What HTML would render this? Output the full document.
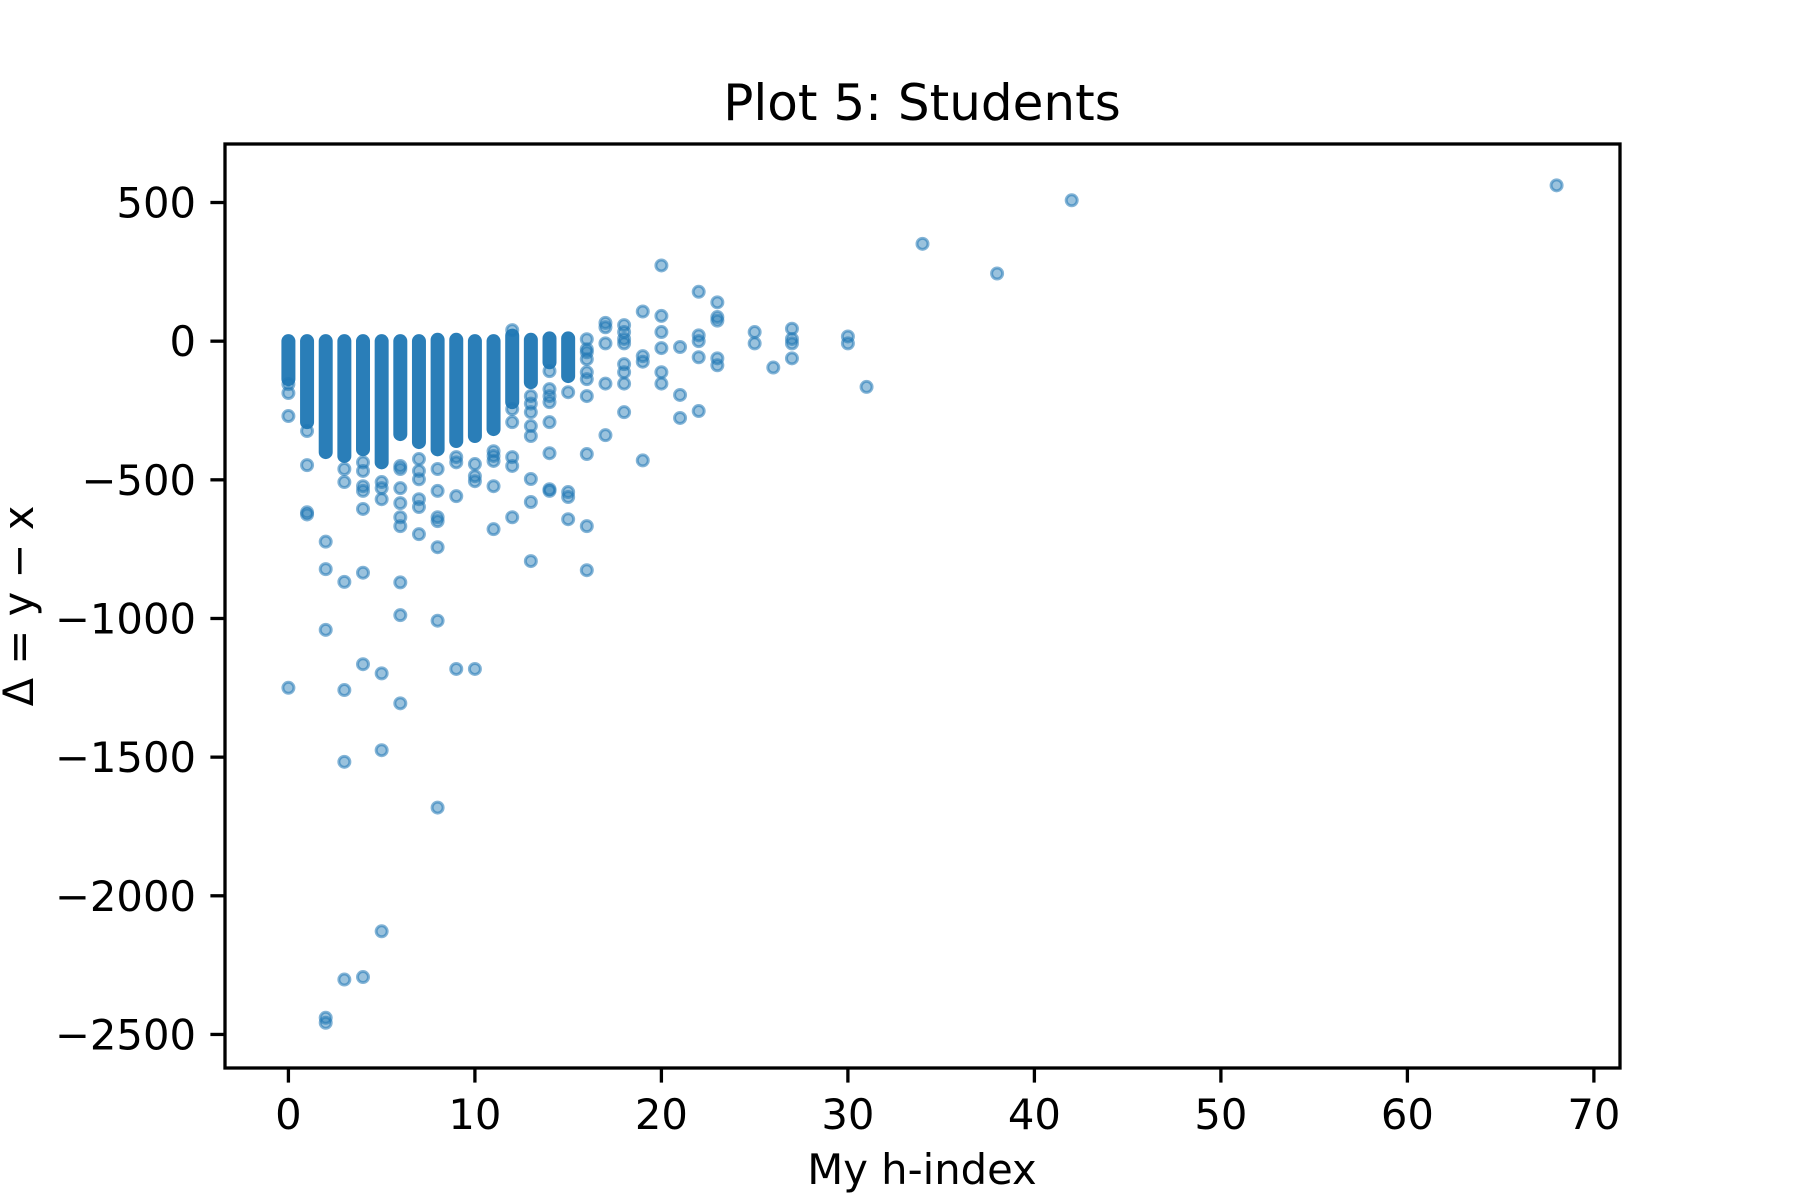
<!DOCTYPE html>
<html><head><meta charset="utf-8"><style>
html,body{margin:0;padding:0;background:#fff}
svg{display:block}
text{font-family:"DejaVu Sans","Liberation Sans",sans-serif;fill:#000}
</style></head><body>
<svg id="chart" width="1800" height="1200" viewBox="0 0 1800 1200" xmlns="http://www.w3.org/2000/svg">
<rect width="1800" height="1200" fill="#fff"/>
<text x="922" y="120" font-size="50" text-anchor="middle">Plot 5: Students</text>
<g id="plot"></g>
<g id="axes"></g>
<text x="922" y="1184" font-size="41.7" text-anchor="middle">My h-index</text>
<text transform="translate(33,606) rotate(-90)" font-size="41.7" text-anchor="middle">Δ = y − x</text>
</svg>
<script>
// Dense column bands (x value, top and bottom of the dense cluster)
const bandX = [0,1,2,3,4,5,6,7,8,9,10,11,12,13,14,15];
const bandTop = [0,0,0,0,0,0,0,0,5,5,0,0,20,5,10,10];
const bandBottom = [-137,-292,-400,-414,-390,-437,-335,-364,-390,-360,-342,-317,-220,-148,-76,-126];
// Individual scatter points (one line per h-index group)
const pointX = [
  0,0,0,0,
  1,1,1,1,
  2,2,2,2,2,
  3,3,3,3,3,3,
  4,4,4,4,4,4,4,4,
  5,5,5,5,5,5,
  6,6,6,6,6,6,6,6,6,
  7,7,7,7,7,7,
  8,8,8,8,8,8,8,
  9,9,9,9,
  10,10,10,10,
  11,11,11,11,11,
  12,12,12,12,12,12,
  13,13,13,13,13,13,13,13,
  14,14,14,14,14,14,14,14,
  15,15,15,15,
  16,16,16,16,16,16,16,16,16,16,
  17,17,17,17,17,
  18,18,18,18,18,18,18,18,
  19,19,19,19,
  20,20,20,20,20,20,
  21,21,21,
  22,22,22,22,22,
  23,23,23,23,23,
  25,25,
  26,
  27,27,27,27,
  30,30,
  31,
  34,
  38,
  42,
  68];
const pointY = [
  -155,-187,-270,-1250,
  -324,-447,-617,-625,
  -723,-822,-1041,-2440,-2458,
  -461,-508,-868,-1258,-1517,-2302,
  -437,-468,-523,-540,-605,-835,-1165,-2293,
  -508,-530,-570,-1198,-1475,-2128,
  -450,-461,-530,-584,-635,-667,-870,-988,-1306,
  -425,-468,-498,-570,-598,-696,
  -461,-540,-635,-649,-743,-1008,-1682,
  -418,-437,-559,-1182,
  -443,-487,-505,-1182,
  -397,-414,-432,-523,-678,
  -245,-292,-418,-450,-635,40,
  -198,-225,-256,-306,-342,-497,-580,-793,
  -108,-173,-198,-220,-292,-404,-534,-540,
  -184,-544,-562,-642,
  7,-29,-40,-65,-112,-137,-198,-407,-667,-826,
  66,50,-8,-153,-339,
  58,33,8,-8,-83,-112,-153,-256,
  107,-54,-74,-430,
  273,91,33,-25,-112,-153,
  -21,-194,-277,
  178,21,0,-58,-252,
  140,87,74,-62,-87,
  33,-8,
  -95,
  45,8,-8,-62,
  17,-8,
  -165,
  351,
  244,
  508,
  562];
const xTicks = [0,10,20,30,40,50,60,70];
const yTicks = [500,0,-500,-1000,-1500,-2000,-2500];
const yTickLabels = ["500","0","\u2212500","\u22121000","\u22121500","\u22122000","\u22122500"];

const L=225,R=1620,T=144,B=1068;
const xMin=-3.4,xMax=71.4,yMin=-2621,yMax=711;
const sx=v=>L+(v-xMin)/(xMax-xMin)*(R-L);
const sy=v=>B-(v-yMin)/(yMax-yMin)*(B-T);
const NS="http://www.w3.org/2000/svg";
const plot=document.getElementById('plot'), axes=document.getElementById('axes');
const C="#1f77b4";
function mk(tag,attrs,parent){const e=document.createElementNS(NS,tag);for(const k in attrs)e.setAttribute(k,attrs[k]);parent.appendChild(e);return e;}

bandX.forEach((x,i)=>{
  const y1=sy(bandTop[i]),y2=sy(bandBottom[i]);
  const r=mk('rect',{x:sx(x)-7,y:y1-7,width:14,height:(y2-y1)+14,rx:7,ry:7,fill:C,'fill-opacity':0.95},plot);
  
  
});
const n=Math.min(pointX.length,pointY.length);
for(let i=0;i<n;i++){
  const c=mk('circle',{cx:sx(pointX[i]),cy:sy(pointY[i]),r:5.5,fill:C,'fill-opacity':0.45,stroke:C,'stroke-width':3,'stroke-opacity':0.55},plot);
  
  
}

const frame=mk('rect',{x:L,y:T,width:R-L,height:B-T,fill:'none',stroke:'#000','stroke-width':3.3},axes);


xTicks.forEach(v=>{
  const x=sx(v);
  const t=mk('line',{x1:x,x2:x,y1:B,y2:B+14.6,stroke:'#000','stroke-width':3.3},axes);
  
  
  const l=mk('text',{x:x,y:1129,'font-size':41.7,'text-anchor':'middle'},axes);
  l.textContent=String(v);
  
  
});
yTicks.forEach((v,i)=>{
  const y=sy(v);
  const t=mk('line',{x1:L-14.6,x2:L,y1:y,y2:y,stroke:'#000','stroke-width':3.3},axes);
  
  
  const l=mk('text',{x:196,y:y+15,'font-size':41.7,'text-anchor':'end'},axes);
  l.textContent=yTickLabels[i];
  
  
});
</script>
</body></html>
